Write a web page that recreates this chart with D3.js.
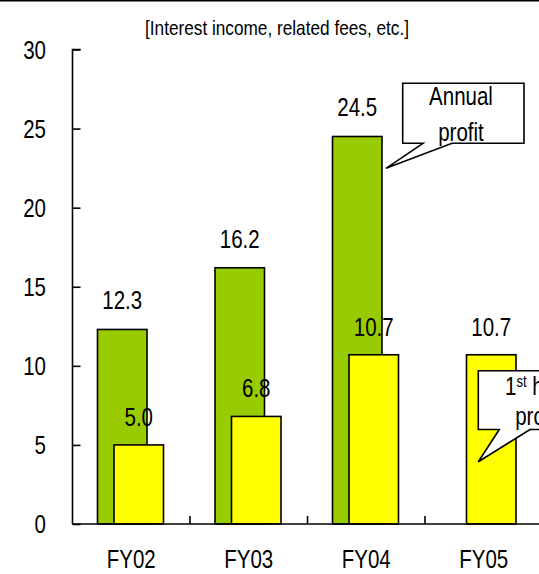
<!DOCTYPE html>
<html>
<head>
<meta charset="utf-8">
<script src="https://cdn.jsdelivr.net/npm/d3@7/dist/d3.min.js"></script>
<style>
  html, body { margin: 0; padding: 0; background: #fff; }
  svg { display: block; }
  text { font-family: "Liberation Sans", Arial, sans-serif; fill: #000; }
</style>
</head>
<body>
<svg id="chart" width="539" height="574"></svg>
<script>
// Profit by fiscal year, billions (interest income, related fees, etc.)
const categories = ["FY02", "FY03", "FY04", "FY05"];
const annualProfit = [12.3, 16.2, 24.5, null];
const firstHalfProfit = [5.0, 6.8, 10.7, 10.7];
const yTicks = [0, 5, 10, 15, 20, 25, 30];
const titleText = "[Interest income, related fees, etc.]";

const W = 539, H = 574;
const svg = d3.select("#chart");
const NARROW = 0.82; // condensed sans look

const x = d3.scaleBand().domain(categories).range([72.5, 542.5]).paddingInner(0).paddingOuter(0);
const y = d3.scaleLinear().domain([0, 30]).range([524, 49.5]);

const barW = 49.5;
const greenOff = 25;
const yellowOff = 41.5;
const fmt = d3.format(".1f");

// narrow text placed at (tx, ty)
function ntext(sel, tx, ty, anchor, size) {
  return sel.attr("transform", (d, i) => {
    const px = typeof tx === "function" ? tx(d, i) : tx;
    const py = typeof ty === "function" ? ty(d, i) : ty;
    return `translate(${px},${py}) scale(${NARROW},1)`;
  }).attr("text-anchor", anchor).attr("font-size", size);
}

// top rule
svg.append("line").attr("x1", 0).attr("x2", W).attr("y1", 0.75).attr("y2", 0.75)
  .attr("stroke", "#000").attr("stroke-width", 1.5);

// title
ntext(svg.append("text"), 277, 35, "middle", 21).text(titleText);

// bars: annual (green) behind half-year (yellow)
const annual = categories.map((c, i) => ({ c, v: annualProfit[i] })).filter(d => d.v != null);
const half = categories.map((c, i) => ({ c, v: firstHalfProfit[i] }));

svg.append("g").selectAll("rect").data(annual).join("rect")
  .attr("x", d => x(d.c) + greenOff).attr("width", barW)
  .attr("y", d => y(d.v)).attr("height", d => y(0) - y(d.v))
  .attr("fill", "#99CC00").attr("stroke", "#000").attr("stroke-width", 1.6);

svg.append("g").selectAll("rect").data(half).join("rect")
  .attr("x", d => x(d.c) + yellowOff).attr("width", barW)
  .attr("y", d => y(d.v)).attr("height", d => y(0) - y(d.v))
  .attr("fill", "#FFFF00").attr("stroke", "#000").attr("stroke-width", 1.6);

// value labels
ntext(svg.append("g").selectAll("text").data(annual).join("text"),
  d => x(d.c) + greenOff + barW / 2, d => y(d.v) - 20, "middle", 25).text(d => fmt(d.v));

ntext(svg.append("g").selectAll("text").data(half).join("text"),
  d => x(d.c) + yellowOff + barW / 2, d => y(d.v) - 19, "middle", 25).text(d => fmt(d.v));

// y axis
const yAxis = d3.axisRight(y).tickValues(yTicks).tickSize(8).tickFormat("");
const gy = svg.append("g").attr("transform", "translate(72.5,0)").call(yAxis);
gy.select(".domain").attr("d", `M8,${y(30)}H0V${y(0)}`).attr("stroke-width", 1.6);
gy.selectAll(".tick line").attr("stroke-width", 1.6);

ntext(svg.append("g").selectAll("text").data(yTicks).join("text"),
  46, d => y(d) + 9, "end", 25).text(d => d);

// x axis
svg.append("line").attr("x1", 72.5).attr("x2", W).attr("y1", y(0)).attr("y2", y(0))
  .attr("stroke", "#000").attr("stroke-width", 1.6);
svg.append("g").selectAll("line").data(categories.slice(1)).join("line")
  .attr("x1", d => x(d)).attr("x2", d => x(d))
  .attr("y1", y(0)).attr("y2", y(0) - 8)
  .attr("stroke", "#000").attr("stroke-width", 1.6);
ntext(svg.append("g").selectAll("text").data(categories).join("text"),
  d => x(d) + x.bandwidth() / 2, 568, "middle", 25).text(d => d);

// callouts
function callout(box, base1, base2, tip) {
  const p = `M${box.l},${box.t}H${box.r}V${box.b}H${base2}L${tip[0]},${tip[1]}L${base1},${box.b}H${box.l}Z`;
  svg.append("path").attr("d", p).attr("fill", "#fff").attr("stroke", "#000").attr("stroke-width", 1.6);
}

// annual callout, pointing at the FY04 annual bar
const fy04Right = x("FY04") + greenOff + barW;
callout({ l: 402.7, r: 524, t: 83.3, b: 143.3 }, 423, 452, [fy04Right + 4, 168.3]);
ntext(svg.append("text"), 461, 105, "middle", 25).text("Annual");
ntext(svg.append("text"), 461, 141, "middle", 25).text("profit");

// first-half callout, pointing at the FY05 half-year bar
callout({ l: 478.3, r: 600, t: 370.7, b: 429.5 }, 499.3, 530, [478.3, 461.7]);
const t1 = ntext(svg.append("text"), 505, 395, "start", 25);
t1.append("tspan").text("1");
t1.append("tspan").attr("font-size", 16).attr("dy", -8.3).text("st");
t1.append("tspan").attr("dy", 8.3).text(" half");
ntext(svg.append("text"), 538, 425, "middle", 25).text("profit");
</script>
</body>
</html>
